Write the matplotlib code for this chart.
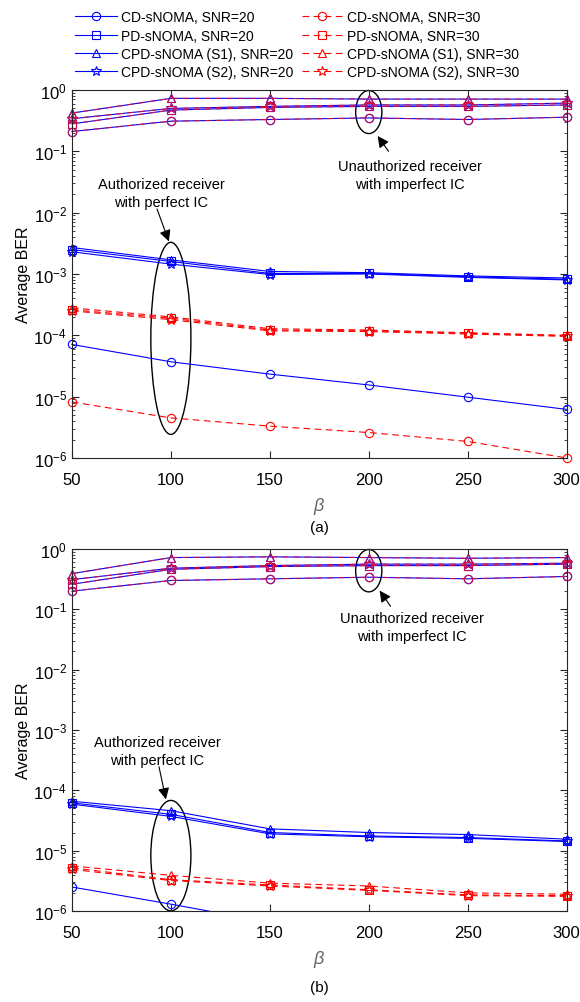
import numpy as np
import matplotlib
matplotlib.use("Agg")
import matplotlib.pyplot as plt
from matplotlib.patches import Ellipse

plt.rcParams['font.family'] = ['Liberation Sans', 'DejaVu Sans']
plt.rcParams['mathtext.fontset'] = 'custom'
plt.rcParams['mathtext.rm'] = 'Liberation Sans'
plt.rcParams['mathtext.it'] = 'Liberation Sans:italic'

# Données
beta = [50, 100, 150, 200, 250, 300]
labels = ["CD-sNOMA, SNR=20", "PD-sNOMA, SNR=20", "CPD-sNOMA (S1), SNR=20",
          "CPD-sNOMA (S2), SNR=20", "CD-sNOMA, SNR=30", "PD-sNOMA, SNR=30",
          "CPD-sNOMA (S1), SNR=30", "CPD-sNOMA (S2), SNR=30"]
markers = ['o', 's', '^', '*']

# (a) récepteur autorisé
a_auth_20 = {
    'CD':  [7.1e-5, 3.7e-5, 2.33e-5, 1.55e-5, 9.8e-6, 6.2e-6],
    'PD':  [2.5e-3, 1.6e-3, 1.02e-3, 1.02e-3, 9.0e-4, 8.2e-4],
    'S1':  [2.7e-3, 1.7e-3, 1.1e-3, 1.05e-3, 9.3e-4, 8.6e-4],
    'S2':  [2.3e-3, 1.45e-3, 0.98e-3, 1.0e-3, 8.8e-4, 8.0e-4],
}
a_auth_30 = {
    'CD':  [8.2e-6, 4.5e-6, 3.3e-6, 2.6e-6, 1.86e-6, 1.0e-6],
    'PD':  [2.6e-4, 1.9e-4, 1.22e-4, 1.18e-4, 1.08e-4, 0.98e-4],
    'S1':  [2.8e-4, 2.0e-4, 1.28e-4, 1.22e-4, 1.1e-4, 1.0e-4],
    'S2':  [2.5e-4, 1.8e-4, 1.18e-4, 1.15e-4, 1.05e-4, 0.96e-4],
}
# (a) récepteur non autorisé
a_unauth = {
    'CD':  [0.21, 0.31, 0.33, 0.35, 0.33, 0.36],
    'PD':  [0.28, 0.47, 0.52, 0.54, 0.54, 0.57],
    'S1':  [0.42, 0.73, 0.73, 0.71, 0.71, 0.71],
    'S2':  [0.34, 0.50, 0.54, 0.57, 0.57, 0.61],
}
# (b) récepteur autorisé
b_auth_20 = {
    'CD':  [2.5e-6, 1.3e-6, 6.5e-7, 3.3e-7, 1.7e-7, 8.5e-8],
    'PD':  [6.2e-5, 4.0e-5, 2.0e-5, 1.75e-5, 1.65e-5, 1.45e-5],
    'S1':  [6.6e-5, 4.6e-5, 2.3e-5, 2.0e-5, 1.85e-5, 1.55e-5],
    'S2':  [5.9e-5, 3.7e-5, 1.9e-5, 1.7e-5, 1.6e-5, 1.42e-5],
}
b_auth_30 = {
    'CD':  [3.0e-7, 1.6e-7, 9.0e-8, 5.0e-8, 3.0e-8, 1.5e-8],
    'PD':  [5.2e-6, 3.3e-6, 2.7e-6, 2.25e-6, 1.85e-6, 1.8e-6],
    'S1':  [5.6e-6, 3.9e-6, 2.9e-6, 2.6e-6, 2.0e-6, 1.9e-6],
    'S2':  [4.9e-6, 3.2e-6, 2.6e-6, 2.2e-6, 1.8e-6, 1.75e-6],
}
b_unauth = {
    'CD':  [0.20, 0.30, 0.32, 0.34, 0.32, 0.35],
    'PD':  [0.26, 0.46, 0.51, 0.53, 0.53, 0.56],
    'S1':  [0.39, 0.72, 0.74, 0.72, 0.70, 0.72],
    'S2':  [0.31, 0.48, 0.53, 0.56, 0.56, 0.58],
}
keys = ['CD', 'PD', 'S1', 'S2']

fig = plt.figure(figsize=(5.8, 10.03), dpi=100)
ax1 = fig.add_axes([0.124, 0.5424, 0.853, 0.3669])
ax2 = fig.add_axes([0.124, 0.0907, 0.853, 0.3610])


def courbe(ax, y, couleur, m, dashed=False, alpha=1.0):
    ms = 7 if m == '*' else 6
    ls = (0, (6, 4)) if dashed else '-'
    # pas de découpage si toute la courbe est dans l'axe (marqueurs au bord)
    dedans = min(y) >= 1e-6
    h, = ax.plot(beta, y, color=couleur, lw=0.8, ls=ls, marker=m, ms=ms,
                 mfc='none', mew=0.8, alpha=alpha, clip_on=not dedans)
    return h


def tracer(ax, auth20, auth30, unauth):
    handles = []
    for k, m in zip(keys, markers):
        handles.append(courbe(ax, auth20[k], '#0000ff', m))
        courbe(ax, unauth[k], '#0000ff', m)
    for k, m in zip(keys, markers):
        handles.append(courbe(ax, auth30[k], '#ff0000', m, dashed=True))
        courbe(ax, unauth[k], '#e0103a', m, dashed=True, alpha=0.85)
    ax.set_yscale('log')
    ax.set_xlim(50, 300)
    ax.set_ylim(1e-6, 1)
    ax.set_xticks(beta)
    ax.set_yticks([1e-6, 1e-5, 1e-4, 1e-3, 1e-2, 1e-1, 1])
    ax.tick_params(which='both', direction='in', top=True, right=True,
                   labelsize=12, color='#262626')
    ax.tick_params(which='major', length=5)
    ax.tick_params(which='minor', length=2.5)
    ax.tick_params(axis='x', pad=10)
    ax.minorticks_on()
    ax.xaxis.set_minor_locator(plt.NullLocator())
    for s in ax.spines.values():
        s.set_color('#262626')
        s.set_linewidth(0.8)
    ax.set_ylabel('Average BER', fontsize=11.5, labelpad=2)
    ax.set_xlabel(r'$\beta$', fontsize=13, color='#666666', labelpad=6)
    return handles


def annoter(ax, e1, e2, t_auth, t_unauth, a_auth, a_unauth):
    ax.add_patch(Ellipse(e1[:2], e1[2], e1[3], transform=ax.transAxes,
                         fill=False, ec='black', lw=1.0, clip_on=False))
    ax.add_patch(Ellipse(e2[:2], e2[2], e2[3], transform=ax.transAxes,
                         fill=False, ec='black', lw=1.0, clip_on=False))
    ax.text(t_auth[0], t_auth[1], 'Authorized receiver\nwith perfect IC',
            ha='center', va='center', fontsize=10.5, linespacing=1.35)
    ax.text(t_unauth[0], t_unauth[1], 'Unauthorized receiver\nwith imperfect IC',
            ha='center', va='center', fontsize=10.5, linespacing=1.35)
    for (x0, y0, x1, y1) in (a_auth, a_unauth):
        ax.annotate('', xy=(x1, 10 ** y1), xytext=(x0, 10 ** y0),
                    arrowprops=dict(arrowstyle='-|>', color='black', lw=0.8,
                                    mutation_scale=17, shrinkA=0, shrinkB=0))


h = tracer(ax1, a_auth_20, a_auth_30, a_unauth)
tracer(ax2, b_auth_20, b_auth_30, b_unauth)

annoter(ax1, (0.2, 0.325, 0.081, 0.522), (0.6, 0.94, 0.053, 0.117),
        (95, 10 ** -1.68), (221, 10 ** -1.38),
        (93, -1.94, 99, -2.47), (210, -1.0, 204.5, -0.75))
annoter(ax2, (0.2, 0.153, 0.081, 0.305), (0.6, 0.94, 0.053, 0.117),
        (93, 10 ** -3.35), (222, 10 ** -1.3),
        (94, -3.61, 97.5, -4.15), (211, -0.95, 205.5, -0.69))

fig.legend(h, labels, loc='upper left', bbox_to_anchor=(0.115, 0.997), ncol=2,
           frameon=False, fontsize=10, handlelength=3.0, handletextpad=0.3,
           columnspacing=0.6, labelspacing=0.3, borderaxespad=0.2)

fig.text(0.551, 0.4736, '(a)', ha='center', va='center', fontsize=11)
fig.text(0.551, 0.015, '(b)', ha='center', va='center', fontsize=11)

fig.savefig('out.png', dpi=100)
